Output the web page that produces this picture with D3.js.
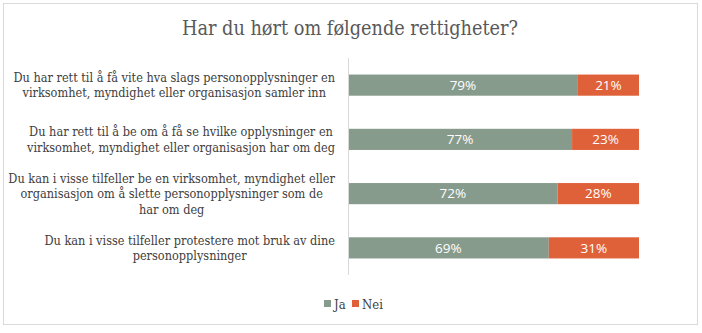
<!DOCTYPE html>
<html><head><meta charset="utf-8">
<script src="https://cdn.jsdelivr.net/npm/d3@7"></script>
<style>body{margin:0;background:#fff;}svg{display:block;}</style>
</head><body>
<script>
const categories = [
  ["Du har rett til å få vite hva slags personopplysninger en","virksomhet, myndighet eller organisasjon samler inn"],
  ["Du har rett til å be om å få se hvilke opplysninger en","virksomhet, myndighet eller organisasjon har om deg"],
  ["Du kan i visse tilfeller be en virksomhet, myndighet eller","organisasjon om å slette personopplysninger som de","har om deg"],
  ["Du kan i visse tilfeller protestere mot bruk av dine","personopplysninger"]
];
const ja = [79, 77, 72, 69];
const nei = [21, 23, 28, 31];
const seriesNames = ["Ja", "Nei"];
const colors = ["#879b8d", "#df6139"];

const serif = "'DejaVu Serif Condensed', 'DejaVu Serif', serif";
const W = 702, H = 333;
const svg = d3.select("body").append("svg").attr("width", W).attr("height", H);
svg.append("rect").attr("x",3.5).attr("y",3.5).attr("width",694).attr("height",321)
  .attr("fill","#fff").attr("stroke","#d9d9d9").attr("stroke-width",1);

svg.append("text").attr("x",350).attr("y",35).attr("text-anchor","middle")
  .attr("font-family",serif).attr("font-size",19.7).attr("fill","#595959")
  .text("Har du hørt om følgende rettigheter?");

const x = d3.scaleLinear().domain([0,100]).range([348,639]);
const y = d3.scaleBand().domain(d3.range(categories.length)).range([58,275]).paddingInner(0.61).paddingOuter(0.305);

const stack = categories.map((c,i)=>[{s:0,x0:0,x1:ja[i],v:ja[i],i},{s:1,x0:ja[i],x1:ja[i]+nei[i],v:nei[i],i}]);
const g = svg.append("g");
stack.forEach(row=>{
  row.forEach(d=>{
    g.append("rect").attr("x",x(d.x0)).attr("y",y(d.i)).attr("width",x(d.x1)-x(d.x0)).attr("height",y.bandwidth()).attr("fill",colors[d.s]);
    g.append("text").attr("x",(x(d.x0)+x(d.x1))/2).attr("y",y(d.i)+y.bandwidth()/2).attr("dy","0.36em")
      .attr("text-anchor","middle").attr("font-family","Open Sans, sans-serif").attr("font-size",13.5)
      .attr("fill","#fff").text(d.v+"%");
  });
});

svg.append("line").attr("x1",348.5).attr("x2",348.5).attr("y1",58).attr("y2",275).attr("stroke","#d9d9d9");

const lineH = 15.5;
categories.forEach((lines,i)=>{
  const t = svg.append("text").attr("font-family",serif).attr("font-size",12.6).attr("fill","#404040").attr("text-anchor","middle");
  const cy = y(i)+y.bandwidth()/2;
  const n = lines.length;
  const spans = lines.map((l,k)=>t.append("tspan").attr("y",cy+(k-(n-1)/2)*lineH).attr("dy","0.35em").text(l));
  let maxW = 0;
  spans.forEach(s=>{maxW=Math.max(maxW,s.node().getComputedTextLength());});
  const cx = 335 - maxW/2;
  spans.forEach(s=>s.attr("x",cx));
});

const lg = svg.append("g");
const items = [{name:seriesNames[0],c:colors[0],x:324},{name:seriesNames[1],c:colors[1],x:352}];
items.forEach(it=>{
  lg.append("rect").attr("x",it.x).attr("y",300).attr("width",7).attr("height",7).attr("fill",it.c);
  lg.append("text").attr("x",it.x+10).attr("y",304).attr("dy","0.35em").attr("font-family",serif)
    .attr("font-size",13).attr("fill","#404040").text(it.name);
});
</script>
</body></html>
